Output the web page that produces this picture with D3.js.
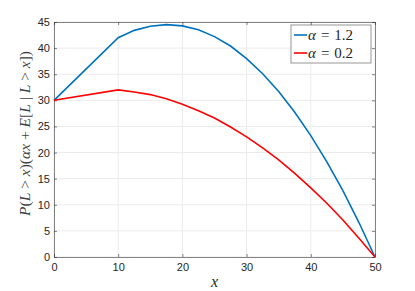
<!DOCTYPE html>
<html lang="en">
<head>
<meta charset="utf-8">
<script src="https://d3js.org/d3.v7.min.js"></script>
<style>
  body { margin: 0; background: #fff; }
  .tick text { font-family: "Liberation Sans", Arial, sans-serif; font-size: 11px; fill: #262626; }
  .mathlbl { font-family: "Liberation Serif", "DejaVu Serif", serif; fill: #262626; }
</style>
</head>
<body>
<div id="chart"></div>
<script>
// values
var xs       = [0, 10, 12.5, 15, 17.5, 20, 22.5, 25, 27.5, 30, 32.5, 35, 37.5, 40, 42.5, 45, 47.5, 50];
var alpha12  = [30, 42, 43.4, 44.2, 44.5, 44.25, 43.5, 42.2, 40.4, 38, 35.1, 31.7, 27.7, 23.25, 18.2, 12.7, 6.6, 0];
var alpha02  = [30, 32, 31.6, 31.1, 30.3, 29.25, 28.0, 26.6, 24.9, 23, 20.9, 18.6, 16.0, 13.25, 10.3, 7.1, 3.6, 0];
var xTicks   = [0, 10, 20, 30, 40, 50];
var yTicks   = [0, 5, 10, 15, 20, 25, 30, 35, 40, 45];
var seriesNames  = ["1.2", "0.2"];
var seriesColors = ["#0072BD", "#FF0000"];

var W = 415, H = 291;
var m = {left: 54, right: 40, top: 22, bottom: 34};

var svg = d3.select("#chart").append("svg")
    .attr("width", W).attr("height", H);

var x = d3.scaleLinear().domain([0, 50]).range([m.left, W - m.right]);
var y = d3.scaleLinear().domain([0, 45]).range([H - m.bottom, m.top]);

// grid
svg.append("g").selectAll("line").data(xTicks).enter().append("line")
    .attr("x1", d => x(d)).attr("x2", d => x(d))
    .attr("y1", y(0)).attr("y2", y(45))
    .attr("stroke", "#ebebeb").attr("stroke-width", 1);
svg.append("g").selectAll("line").data(yTicks).enter().append("line")
    .attr("x1", x(0)).attr("x2", x(50))
    .attr("y1", d => y(d)).attr("y2", d => y(d))
    .attr("stroke", "#ebebeb").attr("stroke-width", 1);

// axes (ticks inward)
var ax = svg.append("g").attr("transform", "translate(0," + y(0) + ")")
    .call(d3.axisBottom(x).tickValues(xTicks).tickSizeInner(-3).tickSizeOuter(0).tickPadding(6));
var ay = svg.append("g").attr("transform", "translate(" + x(0) + ",0)")
    .call(d3.axisLeft(y).tickValues(yTicks).tickSizeInner(-3).tickSizeOuter(0).tickPadding(4));
var axT = svg.append("g").attr("transform", "translate(0," + y(45) + ")")
    .call(d3.axisTop(x).tickValues(xTicks).tickSizeInner(-3).tickSizeOuter(0).tickFormat(""));
var ayR = svg.append("g").attr("transform", "translate(" + x(50) + ",0)")
    .call(d3.axisRight(y).tickValues(yTicks).tickSizeInner(-3).tickSizeOuter(0).tickFormat(""));
[ax, ay, axT, ayR].forEach(function(g) {
  g.selectAll("path, line").attr("stroke", "#262626").attr("stroke-opacity", 0.55);
});

// lines
var line = d3.line().x(d => x(d[0])).y(d => y(d[1]));
[alpha12, alpha02].forEach(function(vals, i) {
  svg.append("path")
      .datum(xs.map((v, j) => [v, vals[j]]))
      .attr("d", line)
      .attr("fill", "none")
      .attr("stroke", seriesColors[i])
      .attr("stroke-width", 1.6);
});

// math text: [string, italic?, dx] pieces
function mathText(sel, parts) {
  parts.forEach(function(p) {
    sel.append("tspan").attr("font-style", p[1] ? "italic" : "normal")
       .attr("dx", p[2] || 0).text(p[0]);
  });
  return sel;
}

// legend
var lg = svg.append("g").attr("transform", "translate(291,25)");
lg.append("rect").attr("width", 80).attr("height", 38)
    .attr("fill", "#fff").attr("stroke", "#262626").attr("stroke-opacity", 0.6).attr("stroke-width", 0.8);
seriesNames.forEach(function(n, i) {
  var yy = 10 + i * 18;
  lg.append("line").attr("x1", 3).attr("x2", 16).attr("y1", yy).attr("y2", yy)
      .attr("stroke", seriesColors[i]).attr("stroke-width", 1.6);
  var t = lg.append("text").attr("class", "mathlbl").attr("x", 17).attr("y", yy + 5)
      .attr("font-size", 15);
  mathText(t, [["\u03B1", true], ["=", false, 5], [n, false, 5]]);
});

// axis labels
mathText(svg.append("text").attr("class", "mathlbl")
    .attr("x", x(25)).attr("y", 287)
    .attr("text-anchor", "middle").attr("font-size", 16), [["x", true]]);
mathText(svg.append("text").attr("class", "mathlbl")
    .attr("transform", "translate(30," + ((y(0) + y(45)) / 2 - 6) + ") rotate(-90)")
    .attr("text-anchor", "middle").attr("font-size", 15.5).attr("fill-opacity", 0.9),
  [["P", true], ["(", false], ["L", true], [" > ", false], ["x", true], [")(", false],
   ["\u03B1x", true], [" + ", false], ["E", true], ["[", false], ["L", true],
   [" | ", false], ["L", true], [" > ", false], ["x", true], ["])", false]]);
</script>
</body>
</html>
